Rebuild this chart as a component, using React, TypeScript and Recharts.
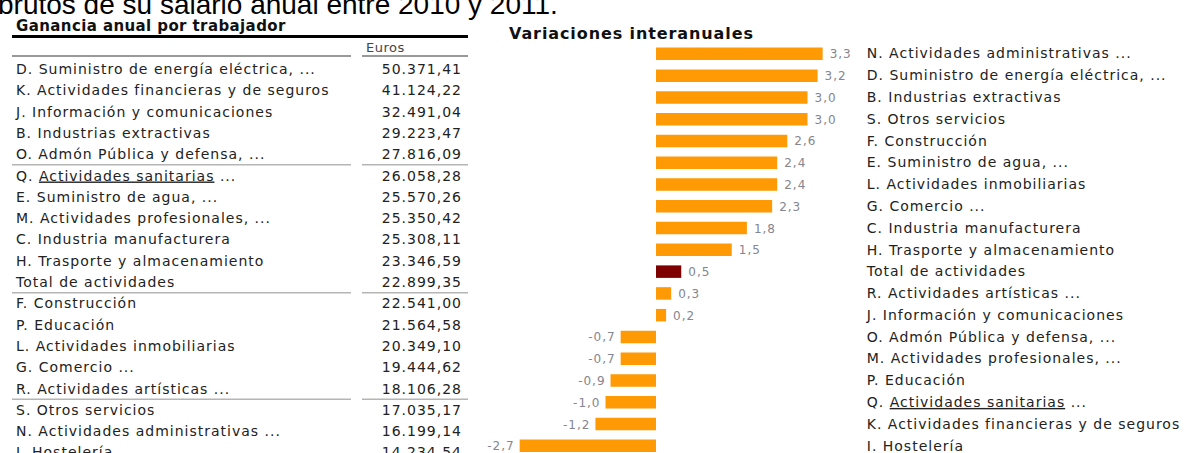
import { BarChart, Bar, XAxis, YAxis, Cell, LabelList } from 'recharts'

const headline = 'brutos de su salario anual entre 2010 y 2011.'
const tableTitle = 'Ganancia anual por trabajador'
const chartTitle = 'Variaciones interanuales'
const unitLabel = 'Euros'

const tableSectors = [
  'D. Suministro de energía eléctrica, ...',
  'K. Actividades financieras y de seguros',
  'J. Información y comunicaciones',
  'B. Industrias extractivas',
  'O. Admón Pública y defensa, ...',
  'Q. Actividades sanitarias ...',
  'E. Suministro de agua, ...',
  'M. Actividades profesionales, ...',
  'C. Industria manufacturera',
  'H. Trasporte y almacenamiento',
  'Total de actividades',
  'F. Construcción',
  'P. Educación',
  'L. Actividades inmobiliarias',
  'G. Comercio ...',
  'R. Actividades artísticas ...',
  'S. Otros servicios',
  'N. Actividades administrativas ...',
  'I. Hostelería',
]
const tableEuros = [
  50371.41, 41124.22, 32491.04, 29223.47, 27816.09, 26058.28, 25570.26, 25350.42, 25308.11,
  23346.59, 22899.35, 22541.0, 21564.58, 20349.1, 19444.62, 18106.28, 17035.17, 16199.14,
  14234.54,
]
// a thin rule is drawn under these rows
const tableBreaks = [4, 10, 15]

const chartSectors = [
  'N. Actividades administrativas ...',
  'D. Suministro de energía eléctrica, ...',
  'B. Industrias extractivas',
  'S. Otros servicios',
  'F. Construcción',
  'E. Suministro de agua, ...',
  'L. Actividades inmobiliarias',
  'G. Comercio ...',
  'C. Industria manufacturera',
  'H. Trasporte y almacenamiento',
  'Total de actividades',
  'R. Actividades artísticas ...',
  'J. Información y comunicaciones',
  'O. Admón Pública y defensa, ...',
  'M. Actividades profesionales, ...',
  'P. Educación',
  'Q. Actividades sanitarias ...',
  'K. Actividades financieras y de seguros',
  'I. Hostelería',
]
const chartChanges = [3.3, 3.2, 3.0, 3.0, 2.6, 2.4, 2.4, 2.3, 1.8, 1.5, 0.5, 0.3, 0.2, -0.7, -0.7, -0.9, -1.0, -1.2, -2.7]
const totalName = 'Total de actividades'

const FONT = "'DejaVu Sans', Verdana, sans-serif"
const ORANGE = '#FF9A05'
const DARK_RED = '#7F0000'
const ROW0 = 69
const ROW_H = 21.3

function formatEuros(n: number): string {
  const [int, dec] = n.toFixed(2).split('.')
  return int.replace(/\B(?=(\d{3})+(?!\d))/g, '.') + ',' + dec
}

function formatChange(n: number): string {
  return n.toFixed(1).replace('.', ',')
}

// splits "Q. Actividades sanitarias ..." so the link part can be underlined
function sectorParts(label: string) {
  const m = label.match(/^(Q\. )(Actividades sanitarias)(.*)$/)
  if (!m) return label
  return (
    <>
      <tspan>{m[1]}</tspan>
      <tspan textDecoration='underline'>{m[2]}</tspan>
      <tspan>{m[3]}</tspan>
    </>
  )
}

function SectorTick(props: any) {
  const { x, y, payload } = props
  return (
    <text x={x} y={y} dy={5} textAnchor='start' fontSize={14} letterSpacing={1} fill='#222' fontFamily={FONT}>
      {sectorParts(payload.value)}
    </text>
  )
}

function ChangeLabel(props: any) {
  const { x, y, width, height, value } = props
  const left = Math.min(x, x + width)
  const right = Math.max(x, x + width)
  const neg = value < 0
  return (
    <text
      x={neg ? left - 5 : right + 7}
      y={y + height / 2}
      dy={4.5}
      textAnchor={neg ? 'end' : 'start'}
      fontSize={12}
      letterSpacing={1}
      fill='#85858f'
      fontFamily={FONT}
    >
      {formatChange(value)}
    </text>
  )
}

function Rule({ y, width = 1.5, color = '#b5b5b5' }: { y: number; width?: number; color?: string }) {
  return (
    <>
      <line x1={12} x2={351} y1={y} y2={y} stroke={color} strokeWidth={width} />
      <line x1={362} x2={468} y1={y} y2={y} stroke={color} strokeWidth={width} />
    </>
  )
}

export default function App() {
  const data = chartSectors.map((name, i) => ({ name, value: chartChanges[i] }))

  return (
    <div style={{ position: 'relative', width: 1187, height: 453, overflow: 'hidden', background: '#fff', fontFamily: FONT }}>
      <style>{'body{margin:0;overflow:hidden}'}</style>

      <svg width={1187} height={453} style={{ position: 'absolute', left: 0, top: 0 }}>
        <text x={-2} y={14} fontSize={28} fontFamily="'Liberation Sans', Arial, sans-serif" fill='#000'>
          {headline}
        </text>

        <text x={16} y={31} fontSize={15} fontWeight='bold' letterSpacing={0.4} fill='#111'>
          {tableTitle}
        </text>
        <line x1={12} x2={468} y1={36.5} y2={36.5} stroke='#000' strokeWidth={3} />
        <text x={366} y={52} fontSize={13} fill='#444' letterSpacing={0.5}>
          {unitLabel}
        </text>
        <Rule y={56} width={2} color='#999' />

        {tableSectors.map((name, i) => {
          const cy = ROW0 + i * ROW_H
          return (
            <g key={name}>
              <text x={16} y={cy + 5} fontSize={14} letterSpacing={1} fill='#222'>
                {sectorParts(name)}
              </text>
              <text x={462} y={cy + 5} fontSize={14} letterSpacing={1} fill='#222' textAnchor='end'>
                {formatEuros(tableEuros[i])}
              </text>
            </g>
          )
        })}
        {tableBreaks.map((i) => (
          <Rule key={i} y={ROW0 + (i + 0.5) * ROW_H} />
        ))}

        <text x={509} y={39} fontSize={16} fontWeight='bold' letterSpacing={0.9} fill='#111'>
          {chartTitle}
        </text>
      </svg>

      <div style={{ position: 'absolute', left: 480, top: 0 }}>
        <BarChart
          width={707}
          height={460}
          layout='vertical'
          data={data}
          margin={{ top: 42.6, right: 0, bottom: 3.6, left: 24.5 }}
        >
          <XAxis type='number' domain={[-3, 3.5]} allowDataOverflow hide />
          <YAxis
            type='category'
            dataKey='name'
            orientation='right'
            width={354.25}
            axisLine={false}
            tickLine={false}
            tickSize={0}
            tickMargin={34}
            interval={0}
            tick={<SectorTick />}
          />
          <Bar dataKey='value' barSize={12.5} isAnimationActive={false}>
            {data.map((d) => (
              <Cell key={d.name} fill={d.name === totalName ? DARK_RED : ORANGE} />
            ))}
            <LabelList dataKey='value' content={<ChangeLabel />} />
          </Bar>
        </BarChart>
      </div>
    </div>
  )
}
